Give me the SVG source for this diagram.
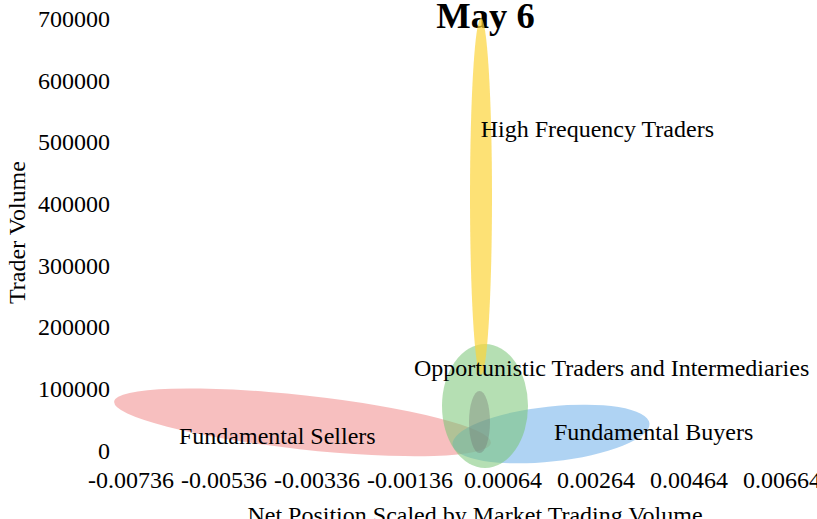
<svg xmlns="http://www.w3.org/2000/svg" width="817" height="519" viewBox="0 0 817 519">
<style>
text{font-family:"Liberation Serif","Times New Roman",serif;fill:#000;font-size:24px}
.yt{text-anchor:end}
.xt{text-anchor:middle}
.title{font-size:36.5px;font-weight:bold;text-anchor:middle}
</style>
<rect width="817" height="519" fill="#fff"/>
<g id="axes">
<text class="title" x="485.5" y="28">May 6</text>
<text class="yt" x="110" y="27">700000</text>
<text class="yt" x="110" y="88.7">600000</text>
<text class="yt" x="110" y="150.3">500000</text>
<text class="yt" x="110" y="212">400000</text>
<text class="yt" x="110" y="273.7">300000</text>
<text class="yt" x="110" y="335.3">200000</text>
<text class="yt" x="110" y="397">100000</text>
<text class="yt" x="110" y="458.7">0</text>
<text class="xt" x="131" y="488">-0.00736</text>
<text class="xt" x="224" y="488">-0.00536</text>
<text class="xt" x="317" y="488">-0.00336</text>
<text class="xt" x="410" y="488">-0.00136</text>
<text class="xt" x="503" y="488">0.00064</text>
<text class="xt" x="596" y="488">0.00264</text>
<text class="xt" x="689" y="488">0.00464</text>
<text class="xt" x="782" y="488">0.00664</text>
<text class="xt" x="475" y="523">Net Position Scaled by Market Trading Volume</text>
<text class="xt" transform="translate(25,232.5) rotate(-90)">Trader Volume</text>
</g>
<g id="fundamental-sellers">
<ellipse cx="302.5" cy="422.3" rx="189.5" ry="27" transform="rotate(6.26 302.5 422.3)" fill="#f08080" fill-opacity="0.5"/>
</g>
<g id="fundamental-buyers">
<ellipse cx="551" cy="434" rx="99" ry="27.5" transform="rotate(-6.2 551 434)" fill="#5fa8e8" fill-opacity="0.5"/>
</g>
<g id="opportunistic">
<ellipse cx="485" cy="406" rx="43" ry="62" fill="#78c575" fill-opacity="0.55"/>
</g>
<g id="high-frequency">
<ellipse cx="481" cy="196.5" rx="11" ry="178.5" fill="#fcd43b" fill-opacity="0.7"/>
</g>
<g id="inner">
<ellipse cx="479.5" cy="422" rx="10.5" ry="31" fill="#707070" fill-opacity="0.35"/>
</g>
<g id="labels">
<text x="480.7" y="137">High Frequency Traders</text>
<text x="414" y="376">Opportunistic Traders and Intermediaries</text>
<text x="179" y="444">Fundamental Sellers</text>
<text x="554" y="440">Fundamental Buyers</text>
</g>
<g id="connectors"></g>
</svg>
